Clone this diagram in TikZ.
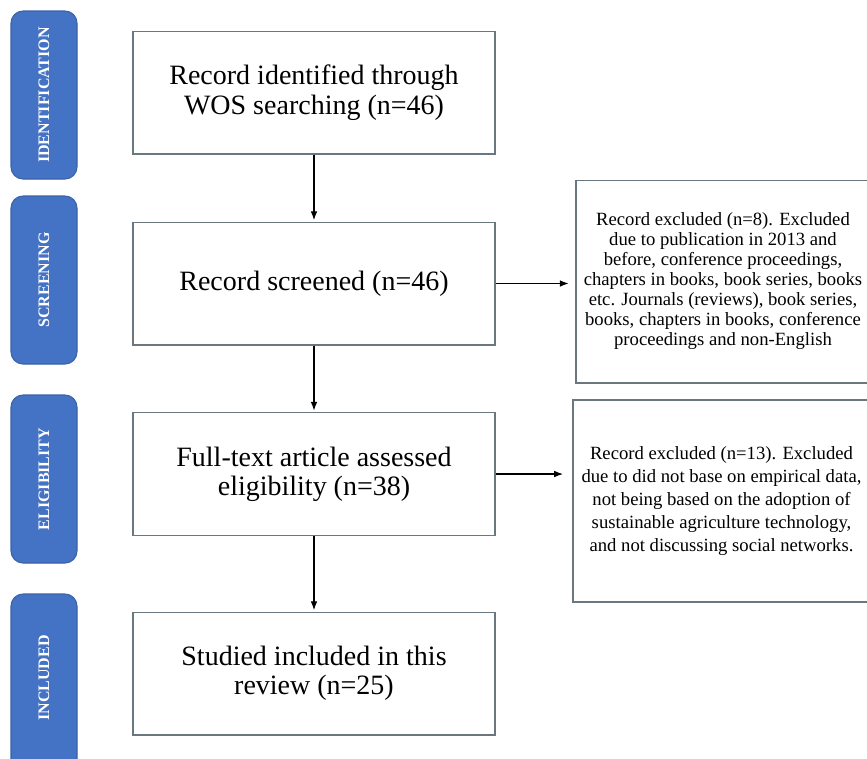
\documentclass[tikz,border=0pt]{standalone}
\usepackage{fontspec}
\setmainfont{Liberation Serif}
\usepackage{xcolor}
\usetikzlibrary{arrows.meta,positioning}

\definecolor{tabblue}{HTML}{4472C4}
\definecolor{tabedge}{HTML}{3A62A8}
\definecolor{boxedge}{HTML}{6B777F}

\begin{document}
\begin{tikzpicture}[x=0.75pt,y=-0.75pt,>=Latex,
  phase/.style={draw=tabedge,fill=tabblue,rounded corners=9pt,line width=0.8pt,
    minimum width=49.5pt,minimum height=126pt,inner sep=0pt},
  phaselabel/.style={text=white,font=\fontsize{12}{14}\selectfont\bfseries,rotate=90},
  stage/.style={draw=boxedge,line width=1pt,minimum width=271.5pt,minimum height=92pt,
    align=center,font=\fontsize{21}{22}\selectfont},
  excl/.style={draw=boxedge,line width=1pt,align=center,
    font=\fontsize{14}{15}\selectfont},
  flow/.style={->,line width=0.8pt,shorten >=1pt}]
  \useasboundingbox (0,0) rectangle (867,758);
  % phase tabs on the left
  \node[phase] (tabid) at (44,95) {};
  \node[phaselabel] at (tabid) {IDENTIFICATION};
  \node[phase] (tabscr) at (44,280) {};
  \node[phaselabel] at (tabscr) {SCREENING};
  \node[phase] (tabelig) at (44,479) {};
  \node[phaselabel] at (tabelig) {ELIGIBILITY};
  \node[phase,minimum height=135pt] (tabincl) at (44,684) {};
  \node[phaselabel] at (44,678) {INCLUDED};
  % main flow
  \node[stage] (ident) at (314,92.5) {Record identified through\\WOS searching (n=46)};
  \node[stage] (screen) at (314,283.5) {Record screened (n=46)};
  \node[stage] (elig) at (314,474) {Full-text article assessed\\eligibility (n=38)};
  \node[stage] (incl) at (314,673.5) {Studied included in this\\review (n=25)};
  % exclusions
  \node[excl,minimum width=220.5pt,minimum height=152pt] (exclscr) at (723,281.5)
    {Record excluded (n=8). Excluded\\due to publication in 2013 and\\before, conference proceedings,\\chapters in books, book series, books\\etc. Journals (reviews), book series,\\books, chapters in books, conference\\proceedings and non-English};
  \node[excl,font=\fontsize{14}{17.3}\selectfont,minimum width=222.75pt,minimum height=151.5pt]
    (exclelig) at (721.5,501)
    {Record excluded (n=13). Excluded\\due to did not base on empirical data,\\not being based on the adoption of\\sustainable agriculture technology,\\and not discussing social networks.};
  \draw[flow] (ident) -- (screen);
  \draw[flow] (screen) -- (elig);
  \draw[flow] (elig) -- (incl);
  \draw[flow,shorten >=5pt] (screen.east) -- (screen.east -| exclscr.west);
  \draw[flow,shorten >=7pt] (elig.east) -- (elig.east -| exclelig.west);
\end{tikzpicture}
\end{document}
